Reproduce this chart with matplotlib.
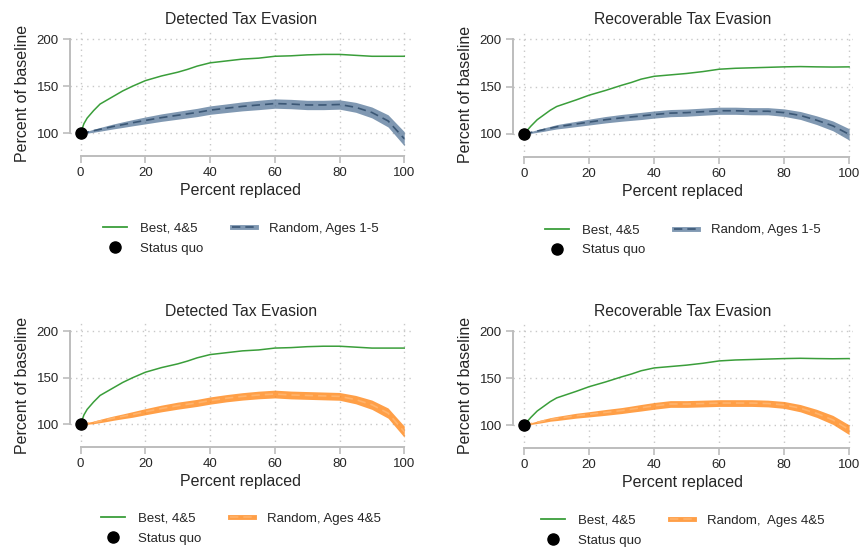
import matplotlib
matplotlib.use("Agg")
import matplotlib.pyplot as plt
from matplotlib.lines import Line2D
import numpy as np

plt.rcParams['font.family'] = ['Liberation Sans', 'DejaVu Sans']

# percent replaced (shared x grid)
pct = [0, 1, 2, 4, 6, 8, 10, 13, 16, 20, 25, 30, 33, 36, 40, 45, 50, 55, 60, 65, 70, 75, 80, 85, 90, 95, 100]

# "Best, 4&5" curves
best_detected = [100, 110, 116, 124, 131, 135, 139, 145, 150, 156, 161, 165, 168, 171.5, 175, 177, 179, 180,
                 182, 182.5, 183.5, 184, 184, 183, 182, 182, 182]
best_recover = [100, 104, 108, 115, 120, 125, 129, 132.5, 136, 141, 146, 151.5, 154.5, 158, 161, 162.5, 164, 166,
                168.5, 169.5, 170, 170.5, 171, 171.3, 171, 170.8, 171]

# random replacement, ages 1-5 (mean and half width of band)
rand15_detected = [100, 100.5, 101, 102.5, 104, 105.5, 107, 109, 111, 113.5, 116.5, 119, 120.5, 122, 124.5, 126.5,
                   128.5, 130, 131.5, 131, 130, 130, 130.5, 127.5, 122, 113, 94]
rand15_detected_hw = [0, 0.6, 1.1, 1.6, 2, 2.3, 2.6, 3, 3.3, 3.7, 4, 4.2, 4.3, 4.4, 4.5, 4.6, 4.8, 5, 5, 5,
                      5, 5, 5, 5.3, 5.8, 6.5, 7.5]
rand15_recover = [100, 100.8, 101.5, 103, 104.5, 106, 107.5, 109, 110.5, 112.5, 115, 117, 118, 119, 120.5, 122,
                  122.5, 123.5, 124.5, 124.5, 124, 124, 122.5, 119.5, 114.5, 108.5, 99.5]
rand15_recover_hw = [0, 0.6, 1, 1.4, 1.8, 2, 2.3, 2.6, 2.8, 3.1, 3.4, 3.6, 3.7, 3.8, 3.8, 3.8, 3.8, 3.8, 3.8, 3.8,
                     3.8, 3.8, 4, 4.2, 4.6, 5.2, 6]

# random replacement, ages 4&5
rand45_detected = [100, 100.5, 101, 102, 103.5, 105, 106.5, 108.5, 110.5, 113.5, 117, 120, 121.5, 123, 125.5, 128,
                   130, 131.5, 132.5, 131.5, 131, 130.5, 130, 126.5, 121, 112, 92]
rand45_detected_hw = [0, 0.6, 1, 1.4, 1.8, 2.1, 2.3, 2.6, 3, 3.3, 3.6, 3.8, 3.8, 3.8, 3.9, 3.9, 4, 4.1, 4.2, 4.2,
                      4.2, 4.2, 4.2, 4.5, 5, 5.5, 6]
rand45_recover = [100, 100.8, 101.5, 103, 104.5, 106, 107, 108.5, 110, 111.5, 113.5, 115.5, 117, 118.5, 120.5,
                  122.5, 122.5, 123, 123.5, 123.5, 123.5, 123, 121.5, 118, 112.5, 105.5, 95]
rand45_recover_hw = [0, 0.5, 0.9, 1.3, 1.7, 1.9, 2.2, 2.4, 2.6, 2.8, 3.1, 3.2, 3.3, 3.5, 3.6, 3.6, 3.6, 3.6, 3.6,
                     3.6, 3.6, 3.6, 3.7, 3.9, 4.3, 4.8, 5.2]

titles = ["Detected Tax Evasion", "Recoverable Tax Evasion"]
xticks = [0, 20, 40, 60, 80, 100]
yticks = [100, 150, 200]

GREEN = '#3a9e3a'
GRID = '#c8c8c8'
SPINE = '#bdbdbd'
TEXT = '#262626'

# band color, band alpha, dashed line color
styles = {
    'blue': ('#4f7194', 0.72, '#3b5775'),
    'orange': ('#ff8a1f', 0.82, '#ffb36b'),
}

panels = [
    # left, right, top, bottom in pixels, xlim
    ((70, 412, 31, 156), (-3.3, 102.4), best_detected, rand15_detected, rand15_detected_hw, 'blue',
     'Random, Ages 1-5', titles[0]),
    ((513, 853, 31, 157), (-3.45, 101.2), best_recover, rand15_recover, rand15_recover_hw, 'blue',
     'Random, Ages 1-5', titles[1]),
    ((70, 412, 323, 447), (-3.3, 102.4), best_detected, rand45_detected, rand45_detected_hw, 'orange',
     'Random, Ages 4&5', titles[0]),
    ((513, 853, 323, 448), (-3.45, 101.2), best_recover, rand45_recover, rand45_recover_hw, 'orange',
     'Random,  Ages 4&5', titles[1]),
]

W, H = 861, 547
fig = plt.figure(figsize=(W / 100, H / 100), dpi=100)

for (l, r, t, b), xl, best, mean, hw, col, lab, title in panels:
    ax = fig.add_axes([l / W, 1 - b / H, (r - l) / W, (b - t) / H])
    band_c, band_a, line_c = styles[col]
    x = np.array(pct)
    m = np.array(mean)
    h = np.array(hw)

    ax.fill_between(x, m - h, m + h, color=band_c, alpha=band_a, lw=0, zorder=2)
    ax.plot(x, m, color=line_c, lw=1.2, dashes=(5, 3), zorder=3)
    ax.plot(x, best, color=GREEN, lw=1.1, zorder=4)
    ax.plot([0], [100], 'o', color='black', ms=8, zorder=5, clip_on=False)

    ax.set_xlim(*xl)
    ax.set_ylim(75.5, 209)
    ax.set_xticks(xticks)
    ax.set_yticks(yticks)
    ax.grid(True, color=GRID, linestyle=(0, (1, 3)), lw=1)
    ax.set_axisbelow(True)

    for s in ['top', 'right']:
        ax.spines[s].set_visible(False)
    for s in ['left', 'bottom']:
        ax.spines[s].set_color(SPINE)
        ax.spines[s].set_linewidth(1.4)
    ax.spines['left'].set_bounds(100, 200)
    ax.spines['bottom'].set_bounds(0, 100)
    ax.tick_params(length=5, width=1.2, color=SPINE, labelcolor=TEXT, labelsize=9.5, pad=3)

    ax.set_title(title, fontsize=11.3, color=TEXT, pad=5)
    ax.set_xlabel("Percent replaced", fontsize=11.5, color=TEXT, labelpad=3)
    ax.set_ylabel("Percent of baseline", fontsize=11.5, color=TEXT, labelpad=5)

    h_best = Line2D([], [], color=GREEN, lw=1.3)
    h_sq = Line2D([], [], color='black', marker='o', ms=8, lw=0)
    h_band = Line2D([], [], color=band_c, alpha=band_a, lw=3.5)
    h_dash = Line2D([], [], color=line_c, lw=1.2, dashes=(5, 3))
    ax.legend([h_best, h_sq, (h_band, h_dash)], ["Best, 4&5", "Status quo", lab],
              ncol=2, loc='center', bbox_to_anchor=(0.5, -0.66), frameon=False,
              fontsize=9.5, handlelength=1.8, handletextpad=1.0, columnspacing=2.2,
              labelspacing=0.6, labelcolor=TEXT)

fig.savefig("out.png", dpi=100)
